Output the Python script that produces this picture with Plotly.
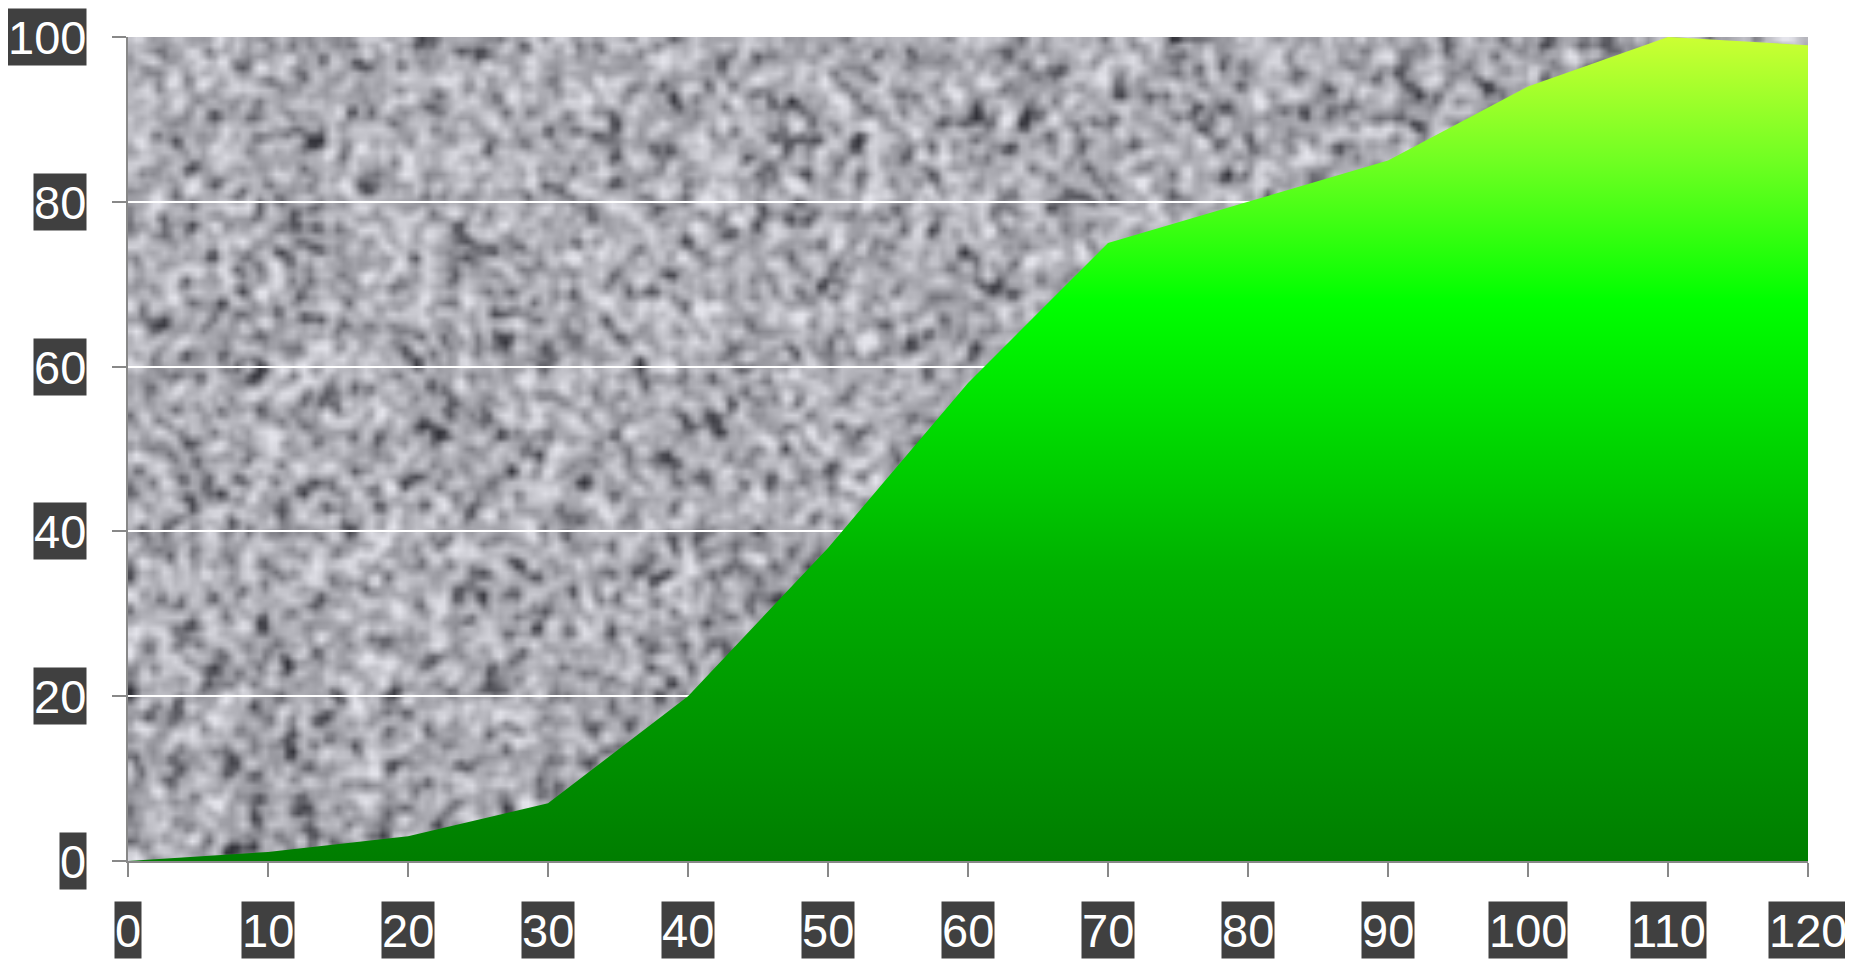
import base64, struct, zlib
import numpy as np
import plotly.graph_objects as go

# ---- data ----
x_values = [0, 10, 20, 30, 40, 50, 60, 70, 80, 90, 100, 110, 120]
y_values = [0, 1.1, 3, 7, 20, 38, 58, 75, 80, 85, 94, 100, 99]
x_ticks = [0, 10, 20, 30, 40, 50, 60, 70, 80, 90, 100, 110, 120]
y_ticks = [0, 20, 40, 60, 80, 100]

# ---- noise texture for the plot background (decoration only) ----
def noise_png(w, h, seed=7):
    rng = np.random.default_rng(seed)
    a = rng.random((h, w))
    k = np.array([1, 2, 1], float)
    k /= k.sum()
    a = np.apply_along_axis(lambda r: np.convolve(np.pad(r, 1, mode="wrap"), k, "valid"), 1, a)
    a = np.apply_along_axis(lambda c: np.convolve(np.pad(c, 1, mode="wrap"), k, "valid"), 0, a)
    a = (a - a.mean()) / a.std()
    v = 170 + 24 * a - 26 * np.clip(-a - 0.9, 0, None)
    v = np.clip(v, 50, 228)
    img = np.stack([v, v, np.clip(v + 7, 0, 255)], axis=-1).astype(np.uint8)
    raw = b"".join(b"\x00" + img[i].tobytes() for i in range(h))
    def chunk(t, d):
        c = struct.pack(">I", len(d)) + t + d
        return c + struct.pack(">I", zlib.crc32(t + d) & 0xffffffff)
    png = b"\x89PNG\r\n\x1a\n" + chunk(b"IHDR", struct.pack(">IIBBBBB", w, h, 8, 2, 0, 0, 0)) \
        + chunk(b"IDAT", zlib.compress(raw, 9)) + chunk(b"IEND", b"")
    return "data:image/png;base64," + base64.b64encode(png).decode()

bg = noise_png(300, 147)

fig = go.Figure()
fig.add_trace(go.Scatter(
    x=x_values, y=y_values, mode="lines", fill="tozeroy",
    line=dict(width=0, color="rgba(0,0,0,0)"),
    fillgradient=dict(type="vertical", start=0, stop=100,
                      colorscale=[[0, "#007d00"], [0.35, "#00b000"], [0.68, "#00ff00"],
                                  [0.85, "#70ff22"], [1, "#ccff33"]]),
    hoverinfo="skip", showlegend=False,
))

annotations = []
label_font = dict(family="Liberation Sans, Arial, sans-serif", size=47, color="#ffffff")
for t in x_ticks:
    annotations.append(dict(x=t, y=0, xref="x", yref="paper", yshift=-69, text=str(t),
                            showarrow=False, bgcolor="#404040", borderpad=0, font=label_font,
                            height=56, xanchor="center", yanchor="middle"))
for t in y_ticks:
    annotations.append(dict(x=0, y=t, xref="paper", yref="y", xshift=-41, text=str(t),
                            showarrow=False, bgcolor="#404040", borderpad=0, font=label_font,
                            height=56, xanchor="right", yanchor="middle"))

fig.update_layout(
    width=1845, height=952,
    margin=dict(l=120, r=45, t=29, b=99),
    paper_bgcolor="#ffffff", plot_bgcolor="rgba(0,0,0,0)",
    images=[dict(source=bg, xref="paper", yref="paper", x=0, y=1, sizex=1, sizey=1,
                 sizing="stretch", layer="below", xanchor="left", yanchor="top")],
    xaxis=dict(range=[0, 120], tickvals=x_ticks, showticklabels=False, showgrid=False,
               zeroline=False, showline=True, linecolor="#888888", linewidth=2,
               ticks="outside", ticklen=14, tickcolor="#888888", tickwidth=2),
    yaxis=dict(range=[0, 100], tickvals=y_ticks, showticklabels=False, showgrid=True,
               gridcolor="#ffffff", gridwidth=2, zeroline=False, showline=True,
               linecolor="#888888", linewidth=2, ticks="outside", ticklen=14,
               tickcolor="#888888", tickwidth=2),
    annotations=annotations,
)

fig.write_html("out.html")
